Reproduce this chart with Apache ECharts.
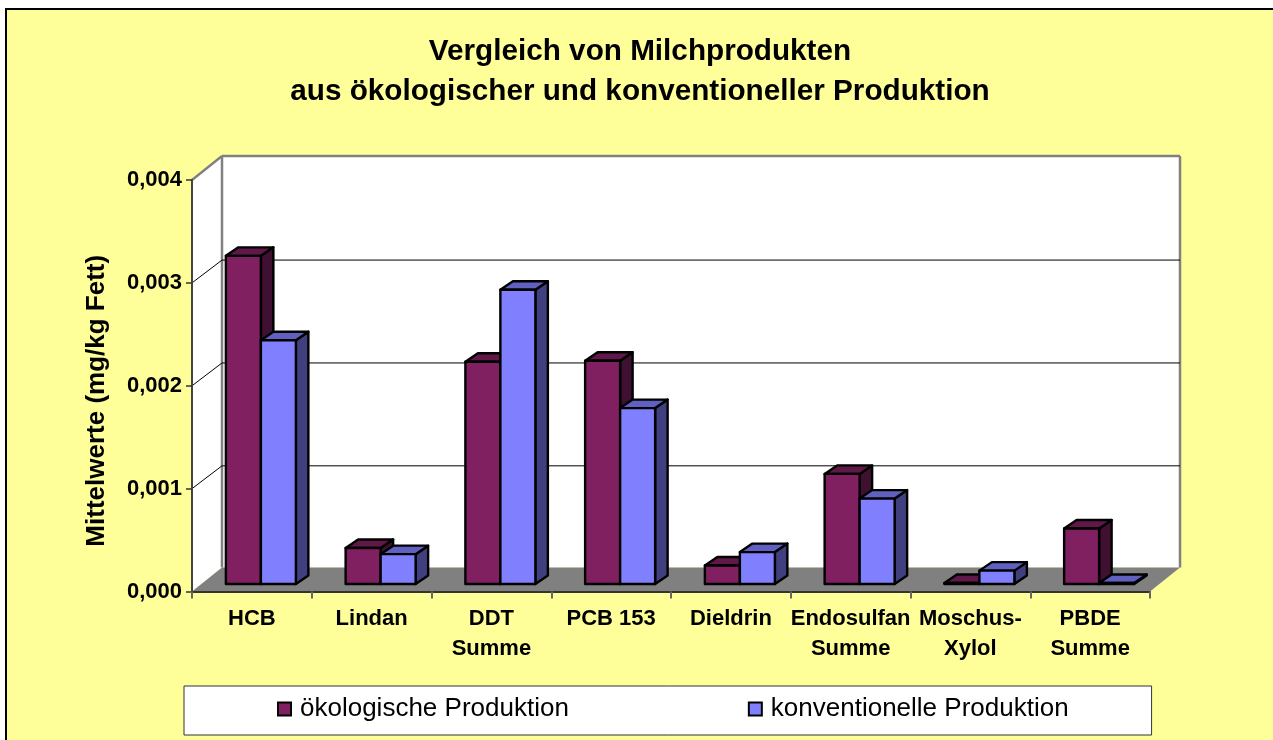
<!DOCTYPE html>
<html><head><meta charset="utf-8">
<script src="https://cdn.jsdelivr.net/npm/echarts@6/dist/echarts.min.js"></script>
<style>html,body{margin:0;padding:0;background:#fff}#c{width:1273px;height:740px}</style>
</head><body><div id="c"></div>
<script>
const categories = ['HCB','Lindan','DDT\nSumme','PCB 153','Dieldrin','Endosulfan\nSumme','Moschus-\nXylol','PBDE\nSumme'];
const oekologisch = [0.00319,0.00035,0.00216,0.00217,0.00018,0.00107,0.00001,0.00054];
const konventionell = [0.00237,0.00029,0.00286,0.00171,0.00031,0.00083,0.00013,0.00001];
const yTicks = [0,0.001,0.002,0.003,0.004];
const seriesNames = ['ökologische Produktion','konventionelle Produktion'];
const FONT = '"Liberation Sans", Arial, sans-serif';
const DX = 30, DY = -24, GDY = -22.8, BDX = 12.5, BDY = -8.5, FX = 9.5, FY = -7.5, BW = 35;

function poly(points, fill, stroke, lw){
  return {type:'polygon', shape:{points}, style:{fill, stroke:stroke||null, lineWidth:lw||0, lineJoin:'round'}};
}
function line(x1,y1,x2,y2,stroke,lw){
  return {type:'line', shape:{x1,y1,x2,y2}, style:{stroke, lineWidth:lw, fill:null}};
}
function backdrop(params, api){
  const cs = params.coordSys, v = api.value(1);
  const L = cs.x, R = cs.x+cs.width, y = api.coord([0,v])[1];
  const y0 = cs.y+cs.height, yT = cs.y;
  const ch = [];
  if (params.dataIndex === 0){
    ch.push(poly([[L,y0],[L+DX,y0+DY],[L+DX,yT+DY],[L,yT]],'#fff'));
    ch.push(poly([[L+DX,yT+DY],[R+DX,yT+DY],[R+DX,y0+DY],[L+DX,y0+DY]],'#fff'));
    ch.push(poly([[L,y0],[L+DX,y0+DY],[R+DX,y0+DY],[R,y0]],'#808080'));
    ch.push(line(L+DX,yT+DY,L+DX,y0+DY,'#808080',2.5));
    ch.push(line(R+DX,yT+DY,R+DX,y0+DY,'#808080',2.5));
    ch.push(line(L+DX,yT+DY,R+DX,yT+DY,'#808080',2.5));
    ch.push(line(L,yT,L+DX,yT+DY,'#808080',2.5));
  } else if (v < yTicks[yTicks.length-1]){
    ch.push(line(L,y,L+DX,y+GDY,'#000',1));
    ch.push(line(L+DX,y+GDY,R+DX,y+GDY,'#000',1));
  }
  return {type:'group', children:ch};
}
function bar(colors, side){
  return function(params, api){
    const p = api.coord([api.value(0), api.value(1)]);
    const b = api.coord([api.value(0), 0]);
    const x0 = p[0]+FX+(side<0?-BW-0.5:-0.5), x1 = x0+BW;
    const yt = p[1]+FY, yb = b[1]+FY;
    const st = '#000', lw = 2.4;
    return {type:'group', children:[
      poly([[x1,yt],[x1+BDX,yt+BDY],[x1+BDX,yb+BDY],[x1,yb]],colors[2],st,lw),
      poly([[x0,yt],[x0+BDX,yt+BDY],[x1+BDX,yt+BDY],[x1,yt]],colors[1],st,lw),
      poly([[x0,yt],[x1,yt],[x1,yb],[x0,yb]],colors[0],st,lw)
    ]};
  };
}
const chart = echarts.init(document.getElementById('c'),null,{renderer:'canvas'});
const toPairs = a => a.map((v,i)=>[i,v]);
chart.setOption({
  animation:false,
  backgroundColor:'#fff',
  textStyle:{fontFamily:FONT},
  graphic:{elements:[{type:'rect',z:-100,silent:true,shape:{x:6,y:9,width:1300,height:760},
    style:{fill:'#FFFF99',stroke:'#000',lineWidth:2}}]},
  title:{text:'Vergleich von Milchprodukten\naus ökologischer und konventioneller Produktion',
    left:635,top:27,textAlign:'center',
    textStyle:{fontFamily:FONT,fontWeight:'bold',fontSize:29.7,lineHeight:40,color:'#000'}},
  grid:{left:192,right:123,top:180,bottom:148.5},
  xAxis:{type:'category',data:categories,
    axisLine:{show:true,lineStyle:{color:'#333',width:2}},
    axisTick:{show:true,length:7,alignWithLabel:false,lineStyle:{color:'#666',width:2}},
    axisLabel:{color:'#000',fontWeight:'bold',fontSize:22,fontFamily:FONT,lineHeight:30,margin:12,interval:0},
    splitLine:{show:false},z:5},
  yAxis:{type:'value',min:0,max:0.004,interval:0.001,
    name:'Mittelwerte (mg/kg Fett)',nameLocation:'middle',nameGap:82,nameRotate:90,
    nameTextStyle:{color:'#000',fontWeight:'bold',fontSize:26,fontFamily:FONT,padding:[0,30,0,0]},
    axisLine:{show:true,lineStyle:{color:'#444',width:2}},
    axisTick:{show:true,length:6,lineStyle:{color:'#333',width:1.5}},
    axisLabel:{color:'#000',fontWeight:'bold',fontSize:22,fontFamily:FONT,margin:10,
      formatter:v=>v.toFixed(3).replace('.',',')},
    splitLine:{show:false},z:5},
  legend:{data:seriesNames,left:184,top:686,orient:'horizontal',
    padding:[10,83,13,93],itemGap:179,itemWidth:13,itemHeight:13,icon:'rect',
    backgroundColor:'#fff',borderColor:'#333',borderWidth:1,
    textStyle:{color:'#000',fontSize:26,fontFamily:FONT,padding:[0,0,0,4]},
    itemStyle:{borderColor:'#000',borderWidth:2}},
  series:[
    {type:'custom',name:'Rückwand',silent:true,z:1,renderItem:backdrop,data:yTicks.map(v=>[0,v]),encode:{x:0,y:1}},
    {type:'custom',name:seriesNames[0],z:2,itemStyle:{color:'#802060'},
      renderItem:bar(['#802060','#601848','#401030'],-1),data:toPairs(oekologisch),encode:{x:0,y:1}},
    {type:'custom',name:seriesNames[1],z:3,itemStyle:{color:'#8080FF'},
      renderItem:bar(['#8080FF','#6060C0','#404080'],1),data:toPairs(konventionell),encode:{x:0,y:1}}
  ]
});
</script></body></html>
